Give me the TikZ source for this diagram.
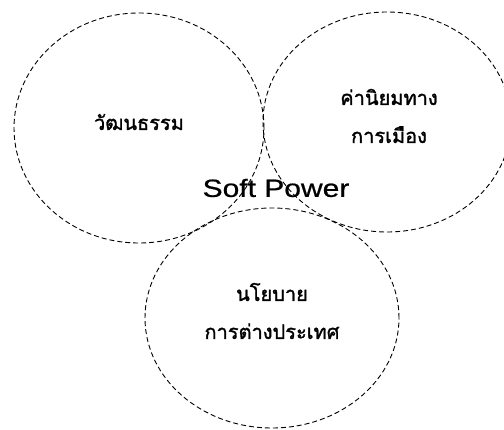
\documentclass[tikz,border=0pt]{standalone}
\usepackage{fontspec}
\setmainfont{Liberation Sans}
\newfontfamily\thaifont[Script=Thai,FakeBold=1.5]{Loma}
\newfontfamily\spfont[FakeBold=0.6]{Liberation Sans}
\begin{document}
\begin{tikzpicture}[x=1pt,y=1pt,
  ring/.style={draw=black,line width=0.9pt,dash pattern=on 5pt off 3pt},
  thlabel/.style={font=\thaifont\fontsize{20}{38}\selectfont,align=center,inner sep=0pt},
  splabel/.style={font=\spfont\fontsize{25}{30}\selectfont,inner sep=0pt}]
\useasboundingbox (0,0) rectangle (504,429);
\clip (0,0) rectangle (504,429);
\draw[ring] (139,301) ellipse [x radius=125, y radius=115];
\draw[ring] (387,307) ellipse [x radius=124, y radius=110];
\draw[ring] (272,111) ellipse [x radius=127, y radius=110];
\node[thlabel] (cult) at (139,307) {วัฒนธรรม};
\node[thlabel] (pol) at (389,313) {ค่านิยมทาง\\การเมือง};
\node[thlabel] (for) at (272,118) {นโยบาย\\การต่างประเทศ};
\node[splabel] (sp) at (276,241) {\scalebox{1.2}[1]{Soft Power}};
\end{tikzpicture}
\end{document}
